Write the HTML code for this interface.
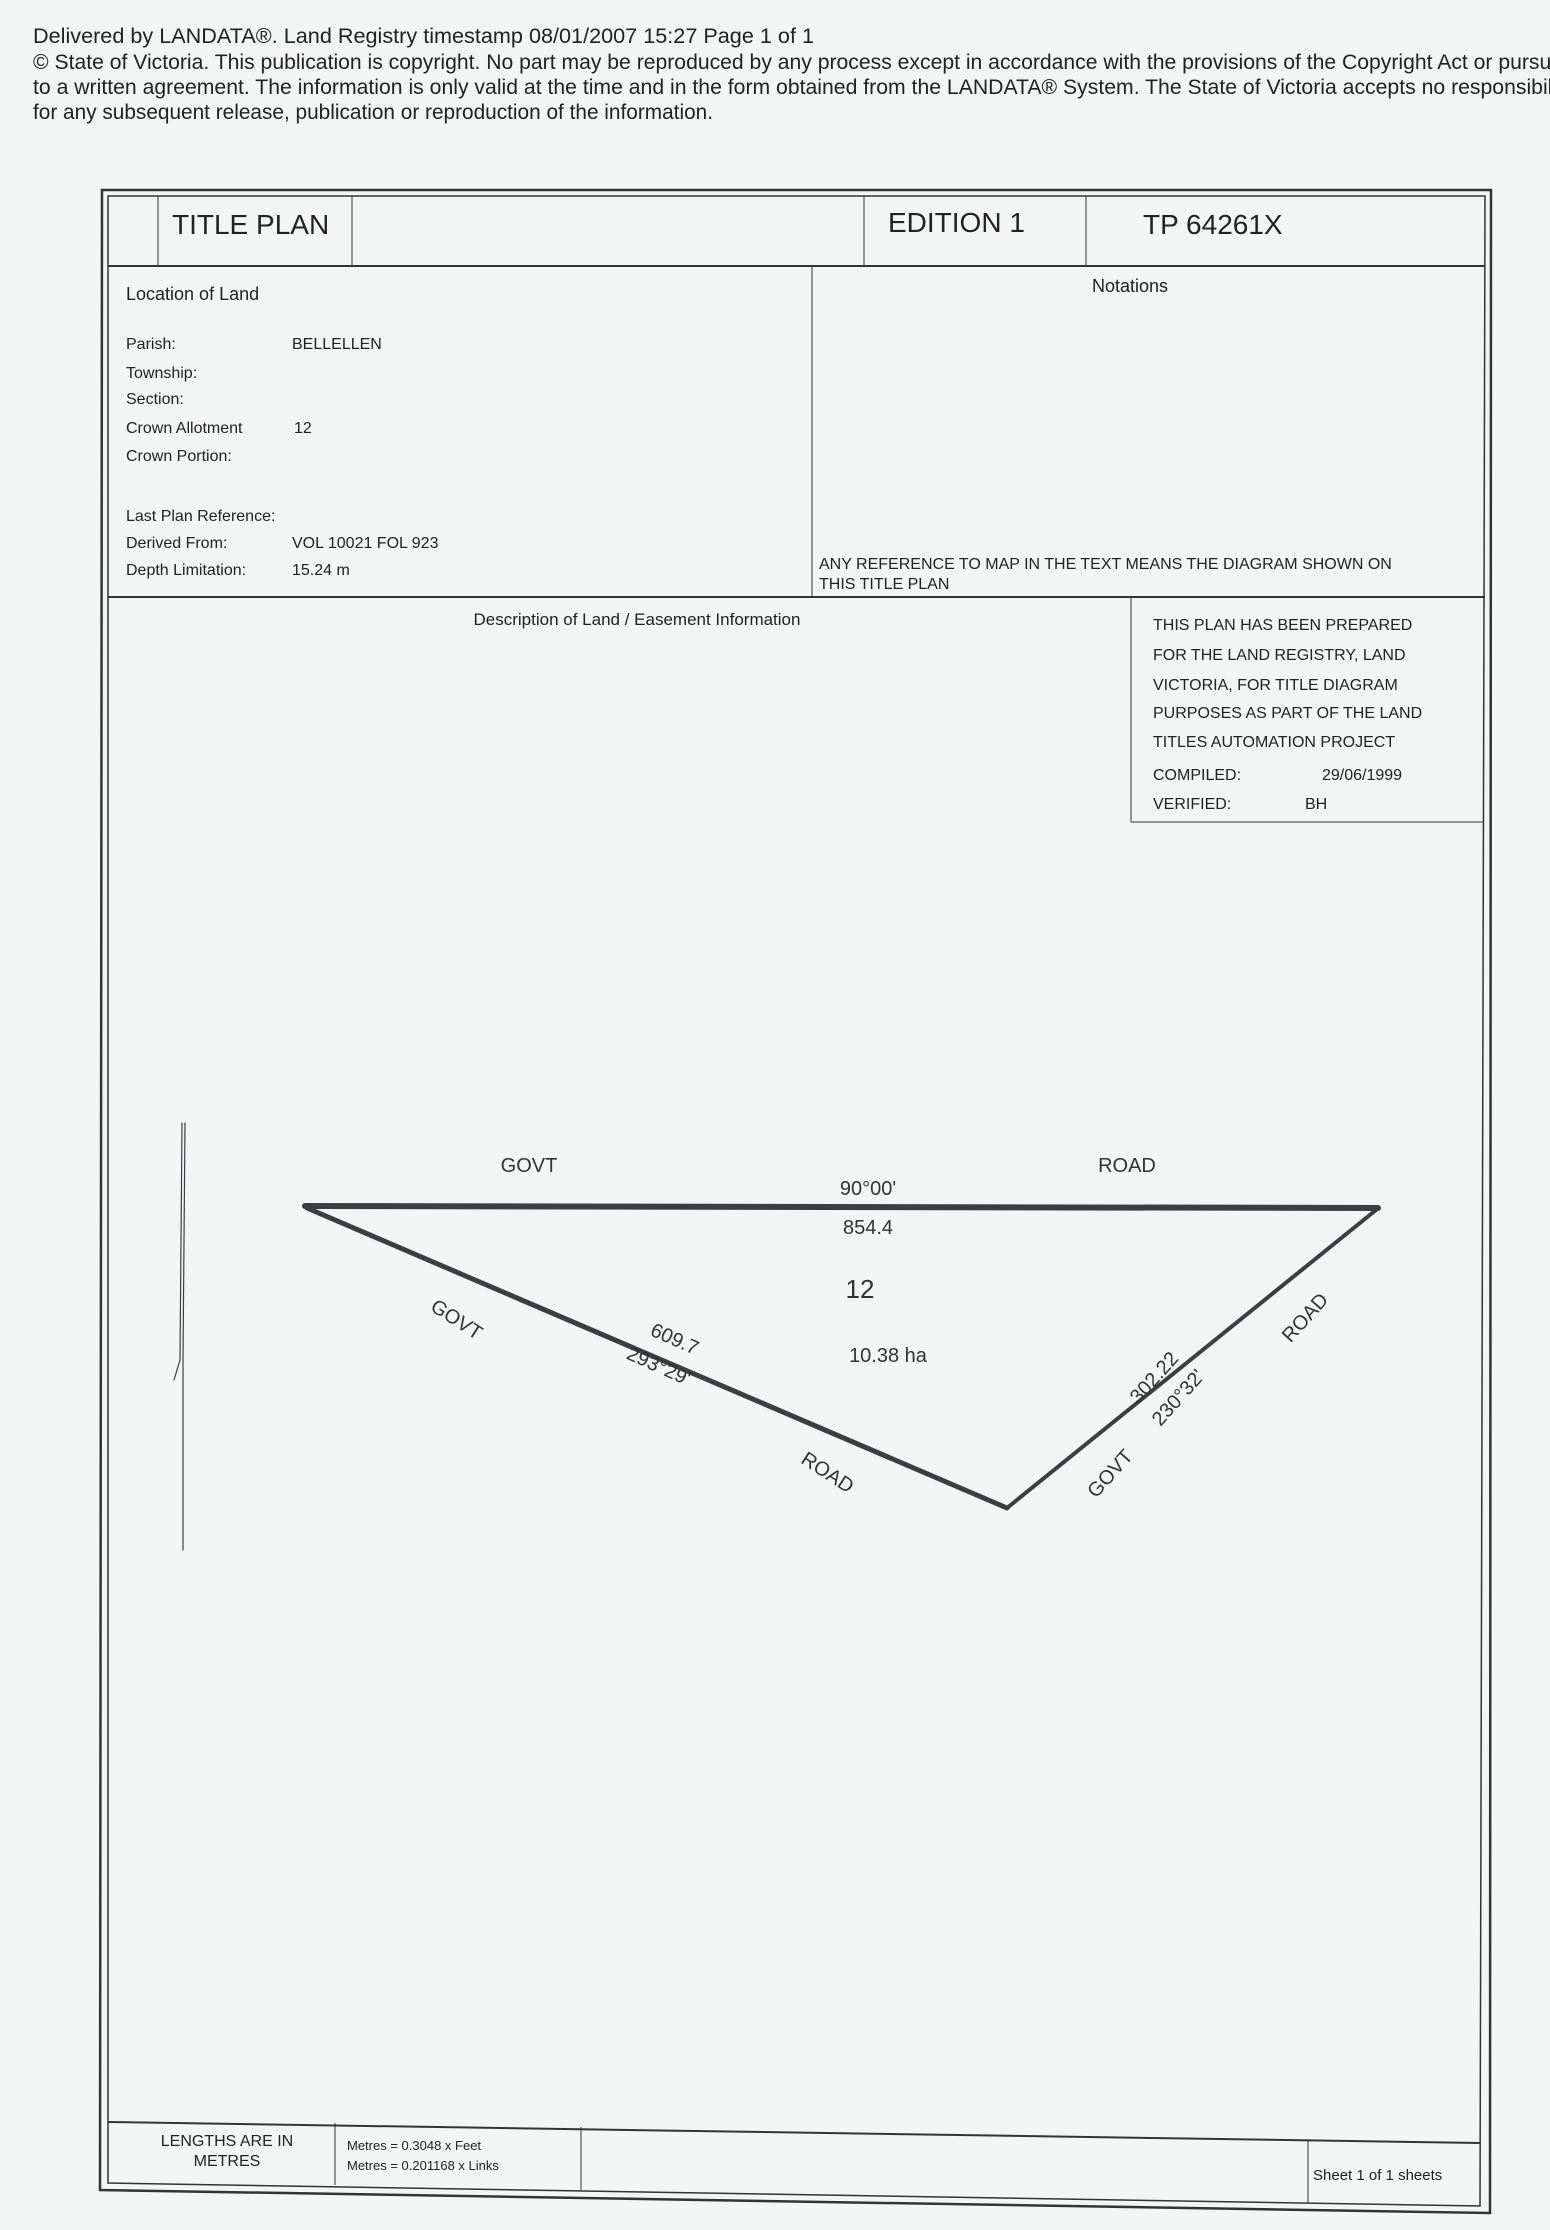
<!DOCTYPE html>
<html><head><meta charset="utf-8"><style>
html,body{margin:0;padding:0;background:#f4f5f5;}
svg{display:block;font-family:"Liberation Sans",sans-serif;}
</style></head><body>
<svg width="1550" height="2230" viewBox="0 0 1550 2230" xmlns="http://www.w3.org/2000/svg">
<rect width="1550" height="2230" fill="#f3f4f4"/>
<g fill="#222" font-size="21">
<text x="33" y="43" textLength="781" lengthAdjust="spacingAndGlyphs">Delivered by LANDATA®.  Land Registry timestamp 08/01/2007 15:27   Page 1 of 1</text>
<text x="33" y="69" textLength="1530" lengthAdjust="spacingAndGlyphs">© State of Victoria. This publication is copyright. No part may be reproduced by any process except in accordance with the provisions of the Copyright Act or pursua</text>
<text x="33" y="94" textLength="1530" lengthAdjust="spacingAndGlyphs">to a written agreement. The information is only valid at the time and in the form obtained from the LANDATA® System. The State of Victoria accepts no responsibilit</text>
<text x="33" y="119" textLength="680" lengthAdjust="spacingAndGlyphs">for any subsequent release, publication or reproduction of the information.</text>
</g>
<!-- frame -->
<g fill="none" stroke="#333">
<polygon points="102,190 1491,190 1490,2213 100,2190" stroke-width="2.5"/>
<polygon points="108,196 1485,196 1480,2206 108,2183" stroke-width="1.5"/>
<line x1="108" y1="266" x2="1485" y2="266" stroke-width="2"/>
<line x1="158" y1="196" x2="158" y2="266"/>
<line x1="352" y1="196" x2="352" y2="266"/>
<line x1="864" y1="196" x2="864" y2="266"/>
<line x1="1086" y1="196" x2="1086" y2="266"/>
<line x1="812" y1="266" x2="812" y2="597"/>
<line x1="108" y1="597" x2="1485" y2="597" stroke-width="2"/>
<polyline points="1131,597 1131,822 1484,822"/>
<line x1="108" y1="2122" x2="1480" y2="2143" stroke-width="2"/>
<line x1="335" y1="2123" x2="335" y2="2185"/>
<line x1="581" y1="2127" x2="581" y2="2190"/>
<line x1="1308" y1="2140" x2="1308" y2="2203"/>
</g>
<g fill="#222">
<text x="172" y="234" font-size="28">TITLE PLAN</text>
<text x="888" y="232" font-size="28">EDITION 1</text>
<text x="1143" y="234" font-size="28">TP 64261X</text>
<text x="126" y="300" font-size="18">Location of Land</text>
<g font-size="16">
<text x="126" y="349">Parish:</text><text x="292" y="349">BELLELLEN</text>
<text x="126" y="378">Township:</text>
<text x="126" y="404">Section:</text>
<text x="126" y="433">Crown Allotment</text><text x="294" y="433">12</text>
<text x="126" y="461">Crown Portion:</text>
<text x="126" y="521">Last Plan Reference:</text>
<text x="126" y="548">Derived From:</text><text x="292" y="548">VOL 10021 FOL 923</text>
<text x="126" y="575">Depth Limitation:</text><text x="292" y="575">15.24 m</text>
<text x="819" y="569">ANY REFERENCE TO MAP IN THE TEXT MEANS THE DIAGRAM SHOWN ON</text>
<text x="819" y="589">THIS TITLE PLAN</text>
<text x="1153" y="630">THIS PLAN HAS BEEN PREPARED</text>
<text x="1153" y="660">FOR THE LAND REGISTRY, LAND</text>
<text x="1153" y="690">VICTORIA, FOR TITLE DIAGRAM</text>
<text x="1153" y="718">PURPOSES AS PART OF THE LAND</text>
<text x="1153" y="747">TITLES AUTOMATION PROJECT</text>
<text x="1153" y="780">COMPILED:</text><text x="1322" y="780">29/06/1999</text>
<text x="1153" y="809">VERIFIED:</text><text x="1305" y="809">BH</text>
</g>
<text x="1130" y="292" font-size="18" text-anchor="middle">Notations</text>
<text x="637" y="625" font-size="17" text-anchor="middle">Description of Land / Easement Information</text>
<text x="227" y="2146" font-size="16" text-anchor="middle">LENGTHS ARE IN</text>
<text x="227" y="2166" font-size="16" text-anchor="middle">METRES</text>
<text x="347" y="2150" font-size="13">Metres = 0.3048 x Feet</text>
<text x="347" y="2170" font-size="13">Metres = 0.201168 x Links</text>
<text x="1313" y="2180" font-size="15">Sheet 1 of 1 sheets</text>
</g>
<!-- diagram -->
<g fill="none" stroke="#3a3f44" stroke-linecap="round">
<line x1="305" y1="1206" x2="1378" y2="1208" stroke-width="6"/>
<line x1="307" y1="1208" x2="1007" y2="1508" stroke-width="5"/>
<line x1="1376" y1="1210" x2="1007" y2="1508" stroke-width="4"/>
<polyline points="182,1123 180,1360 174,1380" stroke-width="1.2"/>
<polyline points="185,1123 183,1360 183,1550" stroke-width="1.2"/>
</g>
<g fill="#333" font-size="20" font-family="'Liberation Sans',sans-serif">
<text x="529" y="1172" text-anchor="middle">GOVT</text>
<text x="1127" y="1172" text-anchor="middle">ROAD</text>
<text x="868" y="1195" text-anchor="middle">90°00'</text>
<text x="868" y="1234" text-anchor="middle">854.4</text>
<text x="860" y="1298" text-anchor="middle" font-size="26">12</text>
<text x="888" y="1362" text-anchor="middle">10.38 ha</text>
<text transform="translate(453,1325) rotate(33)" text-anchor="middle">GOVT</text>
<text transform="translate(672,1345) rotate(24)" text-anchor="middle">609.7</text>
<text transform="translate(656,1372) rotate(24)" text-anchor="middle">293°29'</text>
<text transform="translate(824,1478) rotate(33)" text-anchor="middle">ROAD</text>
<text transform="translate(1159,1382) rotate(-48)" text-anchor="middle">302.22</text>
<text transform="translate(1183,1402) rotate(-48)" text-anchor="middle">230°32'</text>
<text transform="translate(1310,1322) rotate(-48)" text-anchor="middle">ROAD</text>
<text transform="translate(1115,1478) rotate(-48)" text-anchor="middle">GOVT</text>
</g>
</svg>
</body></html>
